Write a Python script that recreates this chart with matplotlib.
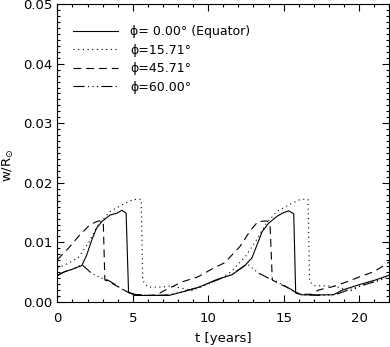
import matplotlib
matplotlib.use("Agg")
import matplotlib.pyplot as plt
from matplotlib.ticker import MultipleLocator, FormatStrFormatter

plt.rcParams['font.family'] = ['DejaVu Sans']
plt.rcParams['mathtext.fontset'] = 'dejavusans'

# ---- data ----
t_eq = [0, 0.5, 1.0, 1.3, 1.62, 1.95, 2.28, 2.6, 2.95, 3.5, 3.94, 4.28, 4.56, 4.72,
        5.1, 6.0, 7.4, 8.3, 9.4, 10.5, 11.6, 12.46, 12.9, 13.24, 13.57, 14.0, 14.57,
        15.0, 15.34, 15.67, 15.8, 16.2, 17.0, 18.3, 18.9, 20.0, 21.1, 22.0]
w_eq = [0.0044, 0.0051, 0.0055, 0.0058, 0.0061, 0.0079, 0.0104, 0.0124, 0.0135, 0.0146,
        0.0149, 0.0154, 0.0149, 0.0017, 0.0011, 0.0011, 0.0011, 0.0017, 0.0025, 0.0037,
        0.0046, 0.0062, 0.0074, 0.0096, 0.0118, 0.0132, 0.0144, 0.0150, 0.0153, 0.0148,
        0.0015, 0.0012, 0.0012, 0.0012, 0.0020, 0.0029, 0.0037, 0.0045]

t_15 = [0, 0.73, 1.4, 2.06, 2.72, 3.5, 4.28, 4.94, 5.38, 5.56, 5.66, 6.0, 6.9, 7.5, 8.26,
        8.9, 10.0, 11.0, 11.57, 12.46, 13.1, 13.8, 14.56, 15.34, 16.0, 16.44, 16.62,
        16.72, 17.1, 18.2, 18.6, 19.4, 20.3, 21.2, 22.0]
w_15 = [0.0057, 0.0065, 0.0075, 0.0099, 0.0130, 0.0152, 0.0163, 0.0171, 0.0173, 0.0172,
        0.0036, 0.0025, 0.0025, 0.0027, 0.0023, 0.0019, 0.0030, 0.0042, 0.0052, 0.0076,
        0.0100, 0.0130, 0.0152, 0.0163, 0.0171, 0.0173, 0.0172, 0.0034, 0.0027, 0.0027,
        0.0025, 0.0018, 0.0030, 0.0035, 0.0046]

t_45 = [0, 0.73, 1.4, 2.06, 2.5, 2.9, 3.05, 3.15, 3.5, 4.0, 4.5, 4.9, 6.0, 6.6, 7.15,
        8.3, 9.3, 10.3, 11.1, 12.1, 12.8, 13.3, 13.9, 14.1, 14.25, 14.6, 15.2, 15.8,
        16.2, 16.9, 17.3, 18.3, 19.2, 20.1, 21.0, 22.0]
w_45 = [0.0071, 0.0090, 0.0110, 0.0127, 0.0134, 0.0137, 0.0130, 0.0037, 0.0033, 0.0026,
        0.0019, 0.0013, 0.0011, 0.0012, 0.0020, 0.0034, 0.0042, 0.0056, 0.0066, 0.0093,
        0.0120, 0.0135, 0.0136, 0.0130, 0.0037, 0.0032, 0.0025, 0.0016, 0.0013, 0.0013,
        0.0020, 0.0026, 0.0034, 0.0043, 0.0051, 0.0067]

t_60 = [0, 0.5, 1.0, 1.3, 1.62, 2.28, 2.95, 3.4, 3.85, 4.4, 4.85, 5.3, 6.5, 7.4, 8.3,
        9.4, 10.5, 11.6, 12.2, 12.6, 13.3, 14.0, 14.5, 15.0, 15.5, 15.9, 16.3, 17.5,
        18.5, 19.5, 20.5, 21.3, 22.0]
w_60 = [0.0045, 0.0051, 0.0055, 0.0059, 0.0063, 0.0048, 0.0040, 0.0036, 0.0029, 0.0020,
        0.0015, 0.0012, 0.0011, 0.0012, 0.0017, 0.0025, 0.0036, 0.0047, 0.0057, 0.0064,
        0.0049, 0.0040, 0.0035, 0.0028, 0.0021, 0.0015, 0.0012, 0.0011, 0.0013, 0.0022,
        0.0030, 0.0036, 0.0042]

labels = ['ϕ= 0.00° (Equator)', 'ϕ=15.71°', 'ϕ=45.71°', 'ϕ=60.00°']

# ---- figure ----
fig = plt.figure(figsize=(3.9, 3.47), dpi=100)
ax = fig.add_axes([0.147, 0.1297, 0.851, 0.8585])

lw = 0.8
ax.plot(t_eq, w_eq, color='black', lw=lw, linestyle='-', label=labels[0])
ax.plot(t_15, w_15, color='black', lw=lw, linestyle=(0, (1, 3.2)), label=labels[1])
ax.plot(t_45, w_45, color='black', lw=lw, linestyle=(0, (7, 4.5)), label=labels[2])
ax.plot(t_60, w_60, color='black', lw=lw, linestyle=(0, (10, 3, 1, 3, 1, 3, 1, 3)), label=labels[3])

ax.set_xlim(0, 22)
ax.set_ylim(0, 0.05)
ax.xaxis.set_major_locator(MultipleLocator(5))
ax.xaxis.set_minor_locator(MultipleLocator(1))
ax.yaxis.set_major_locator(MultipleLocator(0.01))
ax.yaxis.set_minor_locator(MultipleLocator(0.001))
ax.yaxis.set_major_formatter(FormatStrFormatter('%.2f'))

ax.tick_params(which='both', direction='in', top=True, right=True, width=0.8,
               labelsize=9.5, colors='black')
ax.tick_params(axis='x', which='major', length=5, pad=7)
ax.tick_params(axis='y', which='major', length=5, pad=3.5)
ax.tick_params(which='minor', length=2.5)
for s in ax.spines.values():
    s.set_linewidth(0.8)

ax.set_xlabel('t [years]', fontsize=9.5, labelpad=5)
ax.set_ylabel('w/R$_{\\odot}$', fontsize=9.5)
ax.yaxis.set_label_coords(-0.124, 0.46)

leg = ax.legend(loc='upper left', bbox_to_anchor=(0.047, 0.93), frameon=False,
                fontsize=9, handlelength=3.6, handletextpad=1.0, labelspacing=0.45,
                borderaxespad=0.0, borderpad=0.0)

fig.savefig('out.png', dpi=100)
